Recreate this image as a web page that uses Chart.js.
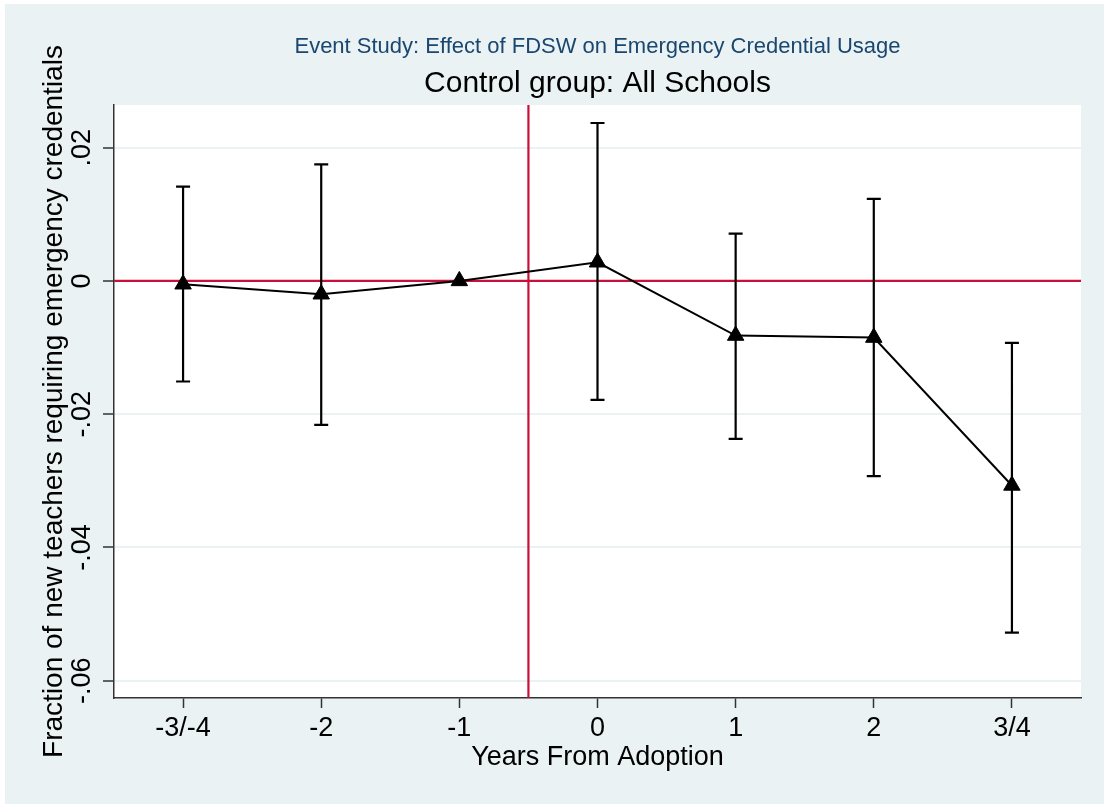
<!DOCTYPE html>
<html>
<head>
    <meta charset="utf-8">
    <script src="https://cdn.jsdelivr.net/npm/chart.js"></script>
    <style>
        body { margin: 0; background: #ffffff; }
    </style>
</head>
<body>
    <canvas id="myChart" width="1104" height="804"></canvas>
    <script>
        // event-time categories (x = 0..6)
        var periods = ['-3/-4', '-2', '-1', '0', '1', '2', '3/4'];
        // point estimates
        var estimates = [-0.0005, -0.002, 0, 0.0028, -0.0082, -0.0085, -0.0307];
        // 95% CI bounds (-1 is the omitted period)
        var ciLow = [-0.0151, -0.0216, null, -0.01785, -0.0237, -0.0293, -0.0528];
        var ciHigh = [0.01415, 0.0175, null, 0.0237, 0.0071, 0.0123, -0.0093];
        var yTicks = [-0.06, -0.04, -0.02, 0, 0.02];

        var bgColor = '#EAF2F3';
        var refColor = '#C8103A';
        var fontFam = '"Liberation Sans", Helvetica, Arial, sans-serif';

        var points = periods.map(function (p, i) { return { x: i, y: estimates[i] }; });

        function stataLabel(v) {
            if (Math.abs(v) < 1e-9) return '0';
            return (v < 0 ? '-' : '') + Math.abs(v).toFixed(2).replace(/^0/, '');
        }

        // backgrounds: white outer edge, bluish graph region, white plot region
        var bgPlugin = {
            id: 'bg',
            beforeDraw: function (chart) {
                var ctx = chart.ctx, a = chart.chartArea;
                ctx.save();
                ctx.fillStyle = '#ffffff';
                ctx.fillRect(0, 0, chart.width, chart.height);
                ctx.fillStyle = bgColor;
                ctx.fillRect(5, 4, chart.width - 5, chart.height - 4);
                ctx.fillStyle = '#ffffff';
                ctx.fillRect(a.left, a.top, a.right - a.left, a.bottom - a.top);
                ctx.restore();
            }
        };

        // reference lines + CI whiskers, drawn through the scales
        var ciPlugin = {
            id: 'ci',
            beforeDatasetsDraw: function (chart) {
                var ctx = chart.ctx, a = chart.chartArea;
                var xs = chart.scales.x, ys = chart.scales.y;
                ctx.save();
                ctx.strokeStyle = refColor;
                ctx.lineWidth = 2.2;
                ctx.beginPath();
                var y0 = ys.getPixelForValue(0);
                ctx.moveTo(a.left, y0); ctx.lineTo(a.right, y0);
                var xv = xs.getPixelForValue(2.5);
                ctx.moveTo(xv, a.top); ctx.lineTo(xv, a.bottom);
                ctx.stroke();

                ctx.strokeStyle = '#000000';
                ctx.lineWidth = 2.2;
                ctx.beginPath();
                for (var i = 0; i < periods.length; i++) {
                    if (ciLow[i] === null) continue;
                    var px = xs.getPixelForValue(i);
                    var lo = ys.getPixelForValue(ciLow[i]);
                    var hi = ys.getPixelForValue(ciHigh[i]);
                    ctx.moveTo(px, lo); ctx.lineTo(px, hi);
                    ctx.moveTo(px - 7, lo); ctx.lineTo(px + 7, lo);
                    ctx.moveTo(px - 7, hi); ctx.lineTo(px + 7, hi);
                }
                ctx.stroke();
                ctx.restore();
            },
            // rotated y tick labels (Stata style)
            afterDraw: function (chart) {
                var ctx = chart.ctx, ys = chart.scales.y;
                ctx.save();
                ctx.fillStyle = '#000000';
                ctx.font = '27px ' + fontFam;
                ctx.textAlign = 'center';
                ctx.textBaseline = 'alphabetic';
                ys.ticks.forEach(function (t) {
                    var py = ys.getPixelForValue(t.value);
                    ctx.save();
                    ctx.translate(90, py);
                    ctx.rotate(-Math.PI / 2);
                    ctx.fillText(stataLabel(t.value), 0, 0);
                    ctx.restore();
                });
                ctx.restore();
            }
        };

        var config = {
            type: 'line',
            data: {
                datasets: [{
                    data: points,
                    borderColor: '#000000',
                    borderWidth: 2,
                    pointStyle: 'triangle',
                    pointRadius: 9.5,
                    pointBackgroundColor: '#000000',
                    pointBorderColor: '#000000',
                    pointBorderWidth: 1,
                    tension: 0,
                    fill: false
                }]
            },
            options: {
                responsive: false,
                animation: false,
                layout: { padding: { left: 0, right: 23, top: 0, bottom: 0 } },
                plugins: {
                    legend: { display: false },
                    tooltip: { enabled: false },
                    title: {
                        display: true,
                        text: 'Event Study: Effect of FDSW on Emergency Credential Usage',
                        color: '#1A476F',
                        fullSize: false,
                        font: { family: fontFam, size: 22, weight: 'normal' },
                        padding: { top: 34, bottom: 0 }
                    },
                    subtitle: {
                        display: true,
                        text: 'Control group: All Schools',
                        color: '#000000',
                        fullSize: false,
                        font: { family: fontFam, size: 30, weight: 'normal' },
                        padding: { top: 5.6, bottom: 3 }
                    }
                },
                scales: {
                    x: {
                        type: 'linear',
                        min: -0.5,
                        max: 6.5,
                        afterFit: function (s) { s.height = 106; },
                        afterBuildTicks: function (s) {
                            s.ticks = periods.map(function (p, i) { return { value: i }; });
                        },
                        border: { display: true, color: '#333333', width: 1.5 },
                        grid: { drawOnChartArea: false, tickLength: 10, tickColor: '#333333', tickWidth: 1.5 },
                        ticks: {
                            padding: 4,
                            color: '#000000',
                            font: { family: fontFam, size: 27 },
                            callback: function (v) { return periods[v] !== undefined ? periods[v] : ''; }
                        },
                        title: {
                            display: true,
                            text: 'Years From Adoption',
                            color: '#000000',
                            font: { family: fontFam, size: 27 },
                            padding: { top: 0, bottom: 30 }
                        }
                    },
                    y: {
                        min: -0.0626,
                        max: 0.0264,
                        afterFit: function (s) { s.width = 114; },
                        afterBuildTicks: function (s) {
                            s.ticks = yTicks.map(function (v) { return { value: v }; });
                        },
                        border: { display: true, color: '#333333', width: 1.5 },
                        grid: { color: bgColor, lineWidth: 2, tickLength: 11, tickColor: '#333333', tickWidth: 1.5 },
                        ticks: { display: false, callback: stataLabel },
                        title: {
                            display: true,
                            text: 'Fraction of new teachers requiring emergency credentials',
                            color: '#000000',
                            font: { family: fontFam, size: 28 },
                            padding: { top: 37, bottom: 0 }
                        }
                    }
                }
            },
            plugins: [bgPlugin, ciPlugin]
        };

        var myChart = new Chart(document.getElementById('myChart'), config);
    </script>
</body>
</html>
